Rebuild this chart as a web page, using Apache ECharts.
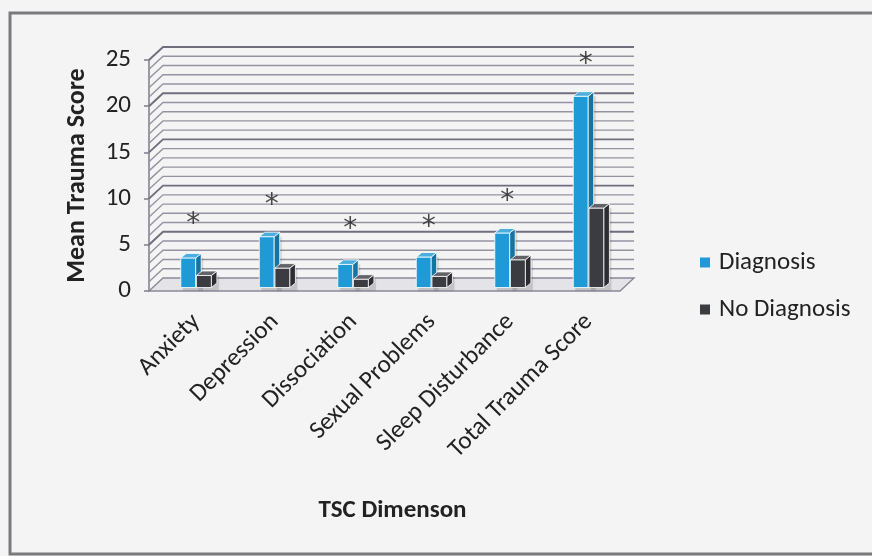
<!DOCTYPE html>
<html>
<head>
<meta charset="utf-8">
<script src="https://cdn.jsdelivr.net/npm/echarts@6/dist/echarts.min.js"></script>
<style>
  html, body { margin: 0; padding: 0; background: #f4f4f4; }
  #chart { width: 872px; height: 556px; }
</style>
</head>
<body>
<div id="chart"></div>
<script>
// TSC dimensions and mean trauma scores per group
const categories = ['Anxiety', 'Depression', 'Dissociation', 'Sexual Problems', 'Sleep Disturbance', 'Total Trauma Score'];
const diagnosis   = [3.2, 5.5, 2.5, 3.3, 5.9, 20.7];
const noDiagnosis = [1.3, 2.1, 0.9, 1.2, 3.0, 8.6];
// height at which each significance asterisk sits
const significance = [7.9, 10.0, 7.4, 7.6, 10.4, 25.3];
const yTicks = [0, 5, 10, 15, 20, 25];

const FONT = 'Carlito, Lato, "Open Sans", sans-serif';
const DEPTH = [14, -13];       // back wall offset from the front plane
const BAR_DEPTH = [5.5, -4.5]; // depth of each 3D box
const BAR_Y = -3.5;            // bars stand slightly behind the front plane
const TEXT = '#222222';

const yMax = yTicks[yTicks.length - 1];

function shade(hex, f) {
  const n = parseInt(hex.slice(1), 16);
  const ch = [(n >> 16) & 255, (n >> 8) & 255, n & 255].map(c =>
    Math.max(0, Math.min(255, Math.round(f > 0 ? c + (255 - c) * f : c * (1 + f)))));
  return 'rgb(' + ch.join(',') + ')';
}

// 3D box renderer; startFrac is the left edge of the front face relative to the band centre
function boxRenderer(color, startFrac, widthFrac) {
  return function (params, api) {
    const band = api.size([1, 0])[0];
    const base = api.coord([api.value(0), 0]);
    const top = api.coord([api.value(0), api.value(1)]);
    const x0 = base[0] + band * startFrac;
    const x1 = x0 + band * widthFrac;
    const yB = base[1] + BAR_Y;
    const yT = top[1] + BAR_Y;
    const dx = BAR_DEPTH[0], dy = BAR_DEPTH[1];
    const edge = { stroke: '#ffffff', lineWidth: 0.8 };
    return {
      type: 'group',
      children: [
        { type: 'rect', shape: { x: x0 + 2, y: yT, width: x1 - x0 + dx, height: yB - yT + 3 },
          style: { fill: 'rgba(0,0,0,0.12)', shadowBlur: 5, shadowColor: 'rgba(0,0,0,0.25)' }, z2: 0 },
        { type: 'rect', shape: { x: x0, y: yT, width: x1 - x0, height: yB - yT },
          style: Object.assign({ fill: color }, edge), z2: 2 },
        { type: 'polygon', shape: { points: [[x1, yB], [x1 + dx, yB + dy], [x1 + dx, yT + dy], [x1, yT]] },
          style: Object.assign({ fill: shade(color, -0.25) }, edge), z2: 2 },
        { type: 'polygon', shape: { points: [[x0, yT], [x1, yT], [x1 + dx, yT + dy], [x0 + dx, yT + dy]] },
          style: Object.assign({ fill: shade(color, 0.2) }, edge), z2: 2 }
      ]
    };
  };
}

// walls: slanted side-wall lines, back-wall gridlines every unit, floor
function wallRenderer(params, api) {
  const band = api.size([1, 0])[0];
  const n = categories.length;
  const xL = api.coord([0, 0])[0] - band / 2;
  const xR = api.coord([n - 1, 0])[0] + band / 2;
  const y0 = api.coord([0, 0])[1];
  const children = [];
  children.push({
    type: 'polygon',
    shape: { points: [[xL, y0], [xR, y0], [xR + DEPTH[0], y0 + DEPTH[1]], [xL + DEPTH[0], y0 + DEPTH[1]]] },
    style: { fill: '#e4e4e8', stroke: '#8a8896', lineWidth: 1.4 }
  });
  for (let v = 1; v <= yMax; v++) {
    const y = api.coord([0, v])[1];
    const major = v % 5 === 0;
    const st = { stroke: major ? '#706e7c' : '#9593a2', lineWidth: major ? 1.9 : 1.4 };
    children.push({ type: 'polyline',
      shape: { points: [[xL, y], [xL + DEPTH[0], y + DEPTH[1]], [xR + DEPTH[0], y + DEPTH[1]]] },
      style: Object.assign({ fill: null }, st) });
  }
  return { type: 'group', children: children };
}

const chart = echarts.init(document.getElementById('chart'));
chart.setOption({
  backgroundColor: '#f4f4f4',
  animation: false,
  textStyle: { fontFamily: FONT },
  graphic: [{
    type: 'rect', shape: { x: 10, y: 13, width: 900, height: 541 },
    style: { fill: null, stroke: '#7a7a7e', lineWidth: 3 }, silent: true, z: -10
  }],
  grid: [
    { left: 149, right: 252, top: 60, bottom: 265, outerBoundsMode: 'none' },
    // category labels sit under the centre of each bar pair
    { left: 157, right: 244, top: 60, bottom: 265, outerBoundsMode: 'none' }
  ],
  legend: {
    data: ['Diagnosis', 'No Diagnosis'],
    orient: 'vertical', left: 695, top: 245,
    icon: 'rect', itemWidth: 10, itemHeight: 10, itemGap: 22,
    textStyle: { fontSize: 25, color: TEXT, fontFamily: FONT, padding: [0, 0, 0, 4] }
  },
  xAxis: [
    { type: 'category', data: categories, gridIndex: 0,
      axisLine: { show: false }, axisTick: { show: false }, axisLabel: { show: false } },
    { type: 'category', data: categories, gridIndex: 1,
      axisLine: { show: false }, axisTick: { show: false },
      axisLabel: { rotate: 45, fontSize: 25, color: TEXT, margin: 27, interval: 0 },
      name: 'TSC Dimenson', nameLocation: 'middle', nameGap: 207,
      nameTextStyle: { fontSize: 25, fontWeight: 'bold', color: TEXT } }
  ],
  yAxis: [
    { type: 'value', min: 0, max: yMax, interval: 5, gridIndex: 0,
      axisLine: { show: true, lineStyle: { color: '#858391', width: 1.6 } },
      axisTick: { show: true, length: 5, lineStyle: { color: '#858391', width: 1.6 } },
      splitLine: { show: false },
      axisLabel: { fontSize: 25, color: TEXT, margin: 18 },
      name: 'Mean Trauma Score', nameLocation: 'middle', nameGap: 59,
      nameTextStyle: { fontSize: 26, fontWeight: 'bold', color: TEXT } },
    { type: 'value', min: 0, max: yMax, interval: 5, gridIndex: 1, show: false }
  ],
  series: [
    { type: 'custom', name: 'walls', data: [[0, 0]], renderItem: wallRenderer, z: 1, silent: true },
    { type: 'custom', name: 'Diagnosis', itemStyle: { color: '#1f9ad6' },
      data: diagnosis.map((v, i) => [i, v]), renderItem: boxRenderer('#1f9ad6', -0.095, 0.19), z: 3 },
    { type: 'custom', name: 'No Diagnosis', itemStyle: { color: '#3b3b42' },
      data: noDiagnosis.map((v, i) => [i, v]), renderItem: boxRenderer('#3b3b42', 0.105, 0.19), z: 4 },
    { type: 'scatter', name: 'significance', symbolSize: 0, z: 5, clip: false,
      data: significance.map((v, i) => [i, v]),
      label: { show: true, formatter: '*', fontSize: 28, fontFamily: '"DejaVu Sans", sans-serif',
               color: '#1e1e1e', offset: [5, 7], position: 'inside' } }
  ]
});
</script>
</body>
</html>
